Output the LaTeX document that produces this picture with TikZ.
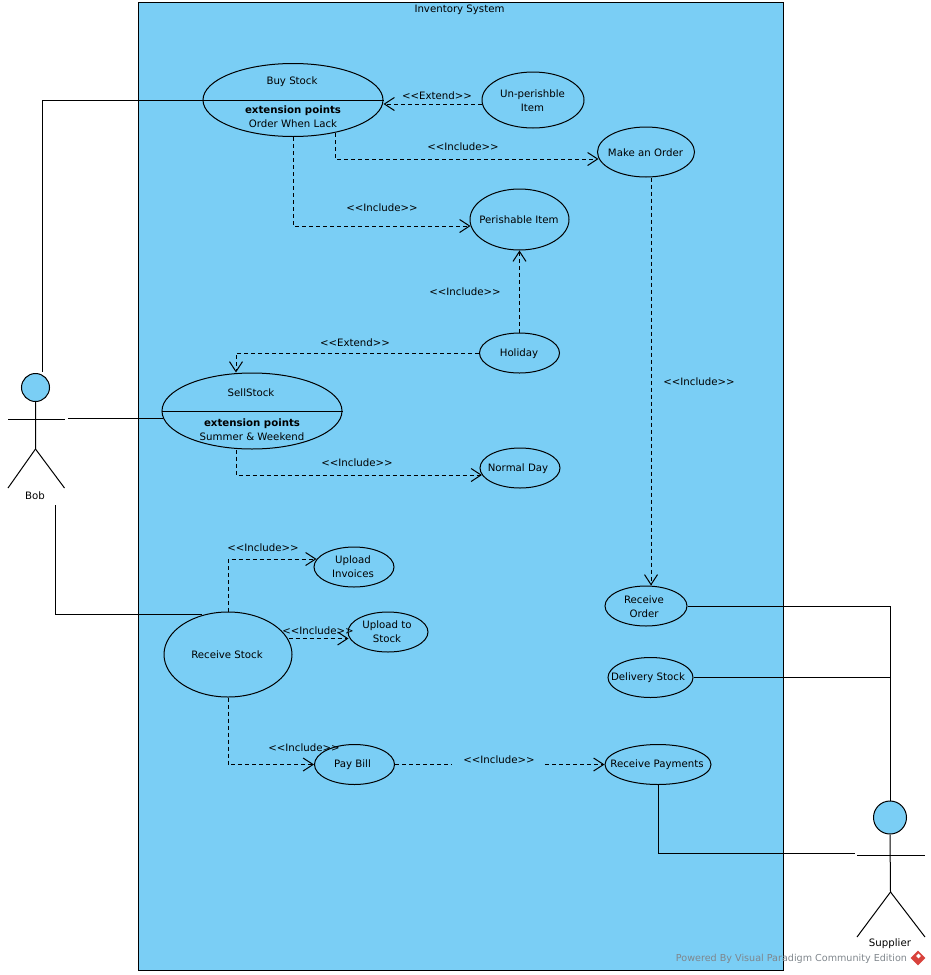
\documentclass[tikz,border=0pt]{standalone}
\usepackage{fontspec}
\setmainfont{DejaVu Sans}
\usetikzlibrary{shapes,arrows.meta}
\definecolor{sysblue}{HTML}{7ACEF5}
\definecolor{vpred}{HTML}{D8423C}
\definecolor{vpgrey}{HTML}{7F868C}

\begin{document}
\begin{tikzpicture}
[x=1pt,y=-1pt,line width=1pt,
usecase/.style 2 args={ellipse,draw,minimum width=#1,minimum height=#2,inner sep=0pt},
tag/.style={inner sep=0pt,yshift=-0.8pt,align=center,font=\fontsize{10.2}{14}\selectfont},
actorhead/.style={circle,draw,fill=sysblue,inner sep=0pt,minimum size=#1},
dep/.style={dashed,dash pattern=on 4pt off 3pt,-{Straight Barb[length=10pt,width=13pt,line width=1pt]}},
dashline/.style={dashed,dash pattern=on 4pt off 3pt}]
\useasboundingbox (0,0) rectangle (930,975);

% system boundary
\node[draw,fill=sysblue,minimum width=645pt,minimum height=968pt,inner sep=0pt] (system) at (461,486.5) {};
\node[tag] (systemtext) at (459.5,9) {Inventory System};

% use cases
\node[usecase={180}{73}] (buy) at (293,100) {};
\draw (buy.west) -- (buy.east);
\node[tag] (buytext) at (292,81) {Buy Stock};
\node[tag] (buyext) at (293,116) {\textbf{extension points}\\Order When Lack};

\node[usecase={102}{56}] (unperish) at (533,100) {};
\node[tag] (unperishtext) at (532.5,100) {Un-perishble\\Item};
\node[usecase={97}{50}] (make) at (646,152) {};
\node[tag] (maketext) at (645.5,152) {Make an Order};
\node[usecase={99}{61}] (perish) at (519.5,219.5) {};
\node[tag] (perishtext) at (519,219) {Perishable Item};
\node[usecase={80}{40}] (holiday) at (519.5,353) {};
\node[tag] (holidaytext) at (519,353) {Holiday};

\node[usecase={180}{76}] (sell) at (252,411) {};
\draw (sell.west) -- (sell.east);
\node[tag] (selltext) at (251,392) {SellStock};
\node[tag] (sellext) at (252,429) {\textbf{extension points}\\Summer \& Weekend};

\node[usecase={80}{40}] (normal) at (520,468) {};
\node[tag] (normaltext) at (518,468) {Normal Day};
\node[usecase={80}{40}] (invoices) at (354,567) {};
\node[tag] (invoicestext) at (353,566) {Upload\\Invoices};
\node[usecase={80}{40}] (tostock) at (388,632) {};
\node[tag] (tostocktext) at (387,631) {Upload to\\Stock};
\node[usecase={128}{85}] (receive) at (228,654.5) {};
\node[tag] (receivetext) at (227,654) {Receive Stock};
\node[usecase={80}{40}] (pay) at (354.5,764.5) {};
\node[tag] (paytext) at (352.5,764) {Pay Bill};
\node[usecase={82}{40}] (order) at (646,606) {};
\node[tag] (ordertext) at (644,606) {Receive\\Order};
\node[usecase={85}{40}] (delivery) at (650.5,677.5) {};
\node[tag] (deliverytext) at (648,677) {Delivery Stock};
\node[usecase={106}{40}] (payments) at (658,764.5) {};
\node[tag] (paymentstext) at (657,764) {Receive Payments};

% actors
\node[actorhead=28pt] (bobhead) at (35.5,387.5) {};
\coordinate (bobhip) at (35.5,449);
\coordinate (bobarml) at (8,419.5);
\coordinate (bobarmr) at (64.5,419.5);
\coordinate (bobfootl) at (8,488);
\coordinate (bobfootr) at (64.5,488);
\draw (bobhead.south) -- (bobhip) -- (bobfootl);
\draw (bobhip) -- (bobfootr);
\draw (bobarml) -- (bobarmr);
\node[tag] (bobtext) at (35,495) {Bob};

\node[actorhead=33pt] (supplierhead) at (890,817.5) {};
\coordinate (supplierhip) at (890.5,892);
\coordinate (supplierarml) at (857,855);
\coordinate (supplierarmr) at (925,855);
\coordinate (supplierfootl) at (857,937);
\coordinate (supplierfootr) at (925,937);
\draw (supplierhead.south) -- (supplierhip) -- (supplierfootl);
\draw (supplierhip) -- (supplierfootr);
\draw (supplierarml) -- (supplierarmr);
\node[tag] (suppliertext) at (890,943) {Supplier};

% associations
\coordinate (bobtop) at (42.5,372);
\coordinate (bobside) at (68,418.5);
\coordinate (bobbottom) at (55.5,505);
\coordinate (suppliertop) at (890,801);
\coordinate (supplierside) at (855,853.5);
\draw (bobtop) |- (buy.west);
\draw (bobside) -- ([xshift=1.5pt,yshift=-7.5pt]sell.west);
\draw (bobbottom) |- ([xshift=-26pt,yshift=-3pt]receive.north);
\draw (order.east) -| (suppliertop);
\draw (delivery.east) -- (delivery.east -| suppliertop);
\draw (payments.south) |- (supplierside);

% dependencies
\draw[dep] ([yshift=-4pt]unperish.west) -- ([yshift=-4pt]buy.east);
\draw[dep] ([xshift=42pt,yshift=4pt]buy.south) |- ([xshift=1.5pt,yshift=-7pt]make.west);
\draw[dep] (buy.south) |- ([xshift=1pt,yshift=-6.5pt]perish.west);
\draw[dep] (holiday.north) -- (perish.south);
\draw[dep] (holiday.west) -| ([xshift=-16pt]sell.north);
\draw[dep] ([xshift=-16pt]sell.south) |- ([xshift=2.5pt,yshift=-7pt]normal.west);
\draw[dep] ([xshift=5pt]make.south) -- ([xshift=5pt]order.north);
\draw[dep] (receive.north) |- ([xshift=3pt,yshift=8pt]invoices.west);
\draw[dep] ([xshift=-4pt,yshift=16pt]receive.east) -- ([xshift=1pt,yshift=-6.5pt]tostock.west);
\draw[dep] (receive.south) |- (pay.west);

\coordinate (paygapl) at (452,764.5);
\coordinate (paygapr) at (545,764.5);
\draw[dashline] (pay.east) -- (paygapl);
\draw[dep] (paygapr) -- (payments.west);

% stereotypes
\node[tag] (extendone) at (437,95) {<{}<Extend>{}>};
\node[tag] (includemake) at (463,146) {<{}<Include>{}>};
\node[tag] (includeperish) at (382,207) {<{}<Include>{}>};
\node[tag] (includeholiday) at (465,291) {<{}<Include>{}>};
\node[tag] (extendtwo) at (355,342) {<{}<Extend>{}>};
\node[tag] (includenormal) at (357,462) {<{}<Include>{}>};
\node[tag] (includeorder) at (699,381) {<{}<Include>{}>};
\node[tag] (includeinvoices) at (263,547) {<{}<Include>{}>};
\node[tag] (includestock) at (318,630) {<{}<Include>{}>};
\node[tag] (includepay) at (304,747) {<{}<Include>{}>};
\node[tag] (includepayments) at (499,759) {<{}<Include>{}>};

% watermark
\node[tag,text=vpgrey,anchor=east,font=\fontsize{9.6}{14}\selectfont] (powered) at (907.5,958) {Powered By Visual Paradigm Community Edition};
\node[diamond,fill=vpred,inner sep=0pt,minimum size=15pt] (vplogo) at (918,958) {};
\node[diamond,fill=white,inner sep=0pt,minimum size=5pt] (vplogomark) at (918.5,956) {};
\end{tikzpicture}
\end{document}
